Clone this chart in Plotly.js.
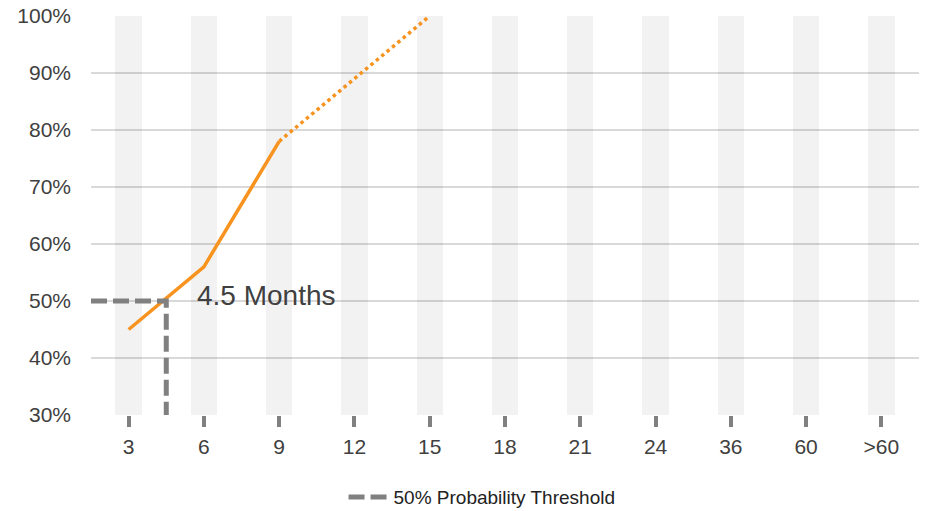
<!DOCTYPE html>
<html>
<head>
<meta charset="utf-8">
<script src="https://cdn.plot.ly/plotly-3.0.1.min.js"></script>
<style>html,body{margin:0;padding:0;background:#fff;}#chart{width:928px;height:511px;}</style>
</head>
<body>
<div id="chart"></div>
<script>
// Categories (months)
const categories = ['3','6','9','12','15','18','21','24','36','60','>60'];
// Background band heights (full height columns)
const bandValues = [100,100,100,100,100,100,100,100,100,100,100];
// Observed probability (solid segment)
const solidCats = ['3','6','9'];
const solidValues = [45, 56, 78];
// Projected probability (dotted segment)
const dottedCats = ['9','12','15'];
const dottedValues = [78, 89, 100];
// Threshold
const thresholdMonths = 4.5;
const thresholdValue = 50;
const yMin = 30, yMax = 100;
const yTicks = [30,40,50,60,70,80,90,100];
const yTickText = ['30%','40%','50%','60%','70%','80%','90%','100%'];

const idx = c => categories.indexOf(c);
const xIdx = categories.map((c,i)=>i);
const tPos = idx('3') + (thresholdMonths - Number(categories[0])) / (Number(categories[1]) - Number(categories[0]));
const xStart = -0.5, xEnd = categories.length - 0.5;

const traces = [
  {type:'bar', x: xIdx, y: bandValues, width: 0.35, marker:{color:'rgba(0,0,0,0.05)', line:{width:0}}, showlegend:false, hoverinfo:'skip'},
  {type:'scatter', mode:'lines', x: solidCats.map(idx), y: solidValues, line:{color:'#F7931E', width:3.5}, showlegend:false},
  {type:'scatter', mode:'lines', x: dottedCats.map(idx), y: dottedValues, line:{color:'#F7931E', width:3.5, dash:'dot'}, showlegend:false},
  {type:'scatter', mode:'lines', name:'50% Probability Threshold',
   x: [xStart, tPos, tPos], y: [thresholdValue, thresholdValue, yMin],
   line:{color:'#808080', width:5, dash:'16px,6px'}, showlegend:true}
];

const layout = {
  width: 928, height: 511,
  margin: {l:91, r:9, t:16, b:96, autoexpand:false},
  paper_bgcolor:'#fff', plot_bgcolor:'#fff',
  font: {family:'"Liberation Sans", Arial, Helvetica, sans-serif', color:'#404040', size:21},
  bargap: 0,
  xaxis: {
    range:[xStart, xEnd], tickvals: xIdx, ticktext: categories,
    showgrid:false, zeroline:false, showline:false,
    ticks:'outside', ticklen:11, tickwidth:4, tickcolor:'#808080',
    ticklabelstandoff: 2,
    tickfont:{size:21, color:'#404040'}, fixedrange:true
  },
  yaxis: {
    range:[yMin, yMax], tickvals: yTicks, ticktext: yTickText,
    showgrid:true, gridcolor:'#d9d9d9', gridwidth:1.5,
    zeroline:false, showline:false, ticks:'',
    ticklabelstandoff: 19,
    tickfont:{size:21, color:'#404040'}, fixedrange:true
  },
  showlegend: true,
  legend: {orientation:'h', x:0.305, xanchor:'left', yref:'container', y:0.027, yanchor:'middle',
           font:{size:19, color:'#222'}, itemwidth:40, bgcolor:'rgba(0,0,0,0)'},
  annotations: [
    {x: 0.88, y: 51, xref:'x', yref:'y', text:'4.5 Months', showarrow:false,
     xanchor:'left', yanchor:'middle', font:{size:28, color:'#404040'}}
  ]
};

Plotly.newPlot('chart', traces, layout, {displayModeBar:false, staticPlot:true});
</script>
</body>
</html>
